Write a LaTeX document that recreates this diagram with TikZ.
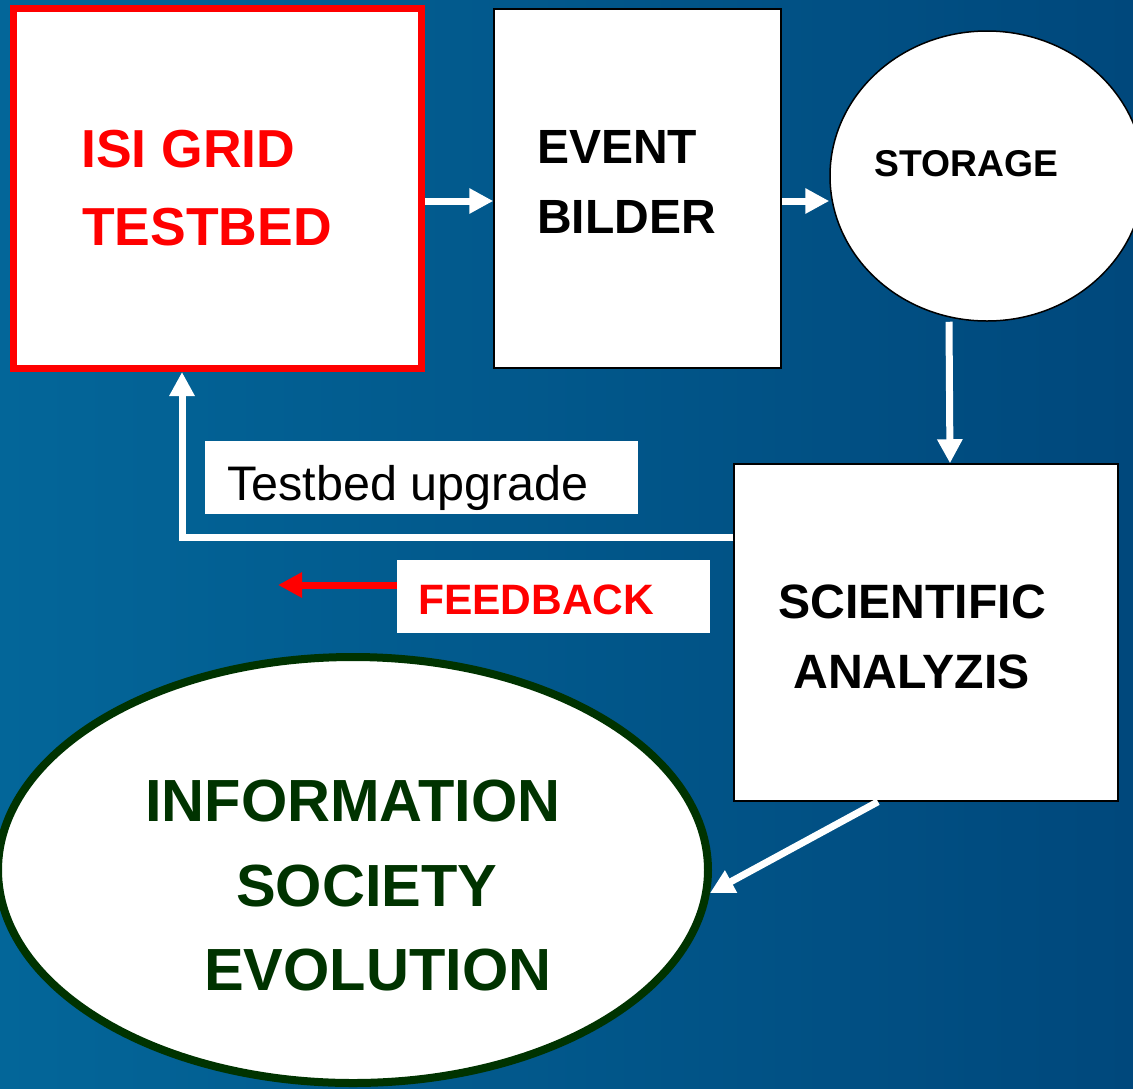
\documentclass[tikz,border=0pt]{standalone}
\usepackage{fontspec}
\setmainfont{Liberation Sans}
\usetikzlibrary{arrows.meta,shapes.geometric,calc}
\definecolor{bgL}{RGB}{3,102,153}
\definecolor{bgR}{RGB}{0,72,124}
\definecolor{dgreen}{RGB}{0,51,0}
\begin{document}
\begin{tikzpicture}[x=1pt,y=-1pt,
  whitebox/.style={draw=black,line width=1.5pt,fill=white,inner sep=0pt},
  plainbox/.style={fill=white,inner sep=0pt},
  warrow/.style={draw=white,line width=7pt,-{Triangle[length=24pt,width=24pt]}},
  rarrow/.style={draw=red,line width=7pt,-{Triangle[length=24pt,width=24pt]}},
  lbl/.style={anchor=base west,inner sep=0pt},
  fa/.style={font=\bfseries\fontsize{53.5}{60}\selectfont},
  fb/.style={font=\bfseries\fontsize{48}{54}\selectfont},
  fc/.style={font=\bfseries\fontsize{37.3}{42}\selectfont},
  fd/.style={font=\fontsize{48.5}{54}\selectfont},
  fe/.style={font=\bfseries\fontsize{42.5}{48}\selectfont},
  fg/.style={font=\bfseries\fontsize{48.2}{54}\selectfont},
  ff/.style={font=\bfseries\fontsize{59.5}{66}\selectfont}]
\useasboundingbox (0,0) rectangle (1133,1088);
\clip (0,0) rectangle (1133,1088);
\shade[left color=bgL,right color=bgR] (0,0) rectangle (1133,1088);

% boxes
\node[draw=red,line width=7pt,fill=white,inner sep=0pt,minimum width=408pt,minimum height=360pt] (isi) at (217.5,188.5) {};
\node[whitebox,minimum width=287pt,minimum height=359pt] (eb) at (637.5,188.5) {};
\node[whitebox,ellipse,minimum width=314pt,minimum height=290pt] (st) at (987,176) {};
\node[whitebox,minimum width=384pt,minimum height=337pt] (sa) at (926,632.5) {};
\node[plainbox,minimum width=433pt,minimum height=73pt] (upg) at (421.5,477.5) {};
\node[plainbox,minimum width=313pt,minimum height=73pt] (fbk) at (553.5,596.5) {};
\node[draw=dgreen,line width=8pt,fill=white,ellipse,inner sep=0pt,minimum width=710pt,minimum height=426pt] (info) at (353,870) {};

% texts
\node[lbl,fa,text=red] (isit1) at (81,167) {ISI GRID};
\node[lbl,fa,text=red] (isit2) at (82,245) {TESTBED};
\node[lbl,fb] (ebt1) at (537,163) {EVENT};
\node[lbl,fb] (ebt2) at (537,233) {BILDER};
\node[lbl,fc] (stt) at (874,176) {STORAGE};
\node[lbl,fg] (sat1) at (778,618) {SCIENTIFIC};
\node[lbl,fg] (sat2) at (793,688) {ANALYZIS};
\node[lbl,fd] (upgt) at (227,500) {Testbed upgrade};
\node[lbl,fe,text=red] (fbt) at (418,614) {FEEDBACK};
\node[lbl,ff,text=dgreen] (inf1) at (145,821) {INFORMATION};
\node[lbl,ff,text=dgreen] (inf2) at (236,906) {SOCIETY};
\node[lbl,ff,text=dgreen] (inf3) at (204,990) {EVOLUTION};

% connectors
\coordinate (upcorner) at (182,537);
\coordinate (fbtip) at (278,585);
\coordinate (infotip) at (710,893);
\draw[warrow] (isi.east |- 0,201) -- (eb.west |- 0,201);
\draw[warrow] (eb.east |- 0,201) -- (st.west |- 0,201);
\draw[warrow] ($(st.south)+(-38,0)$) -- ($(sa.north)+(24,0)$);
\draw[warrow,line join=miter] (sa.west |- upcorner) -- (upcorner) -- (upcorner |- isi.south);
\draw[rarrow] (fbk.west |- fbtip) -- (fbtip);
\draw[warrow] ($(sa.south)+(-48,0)$) -- (infotip);
\end{tikzpicture}
\end{document}
